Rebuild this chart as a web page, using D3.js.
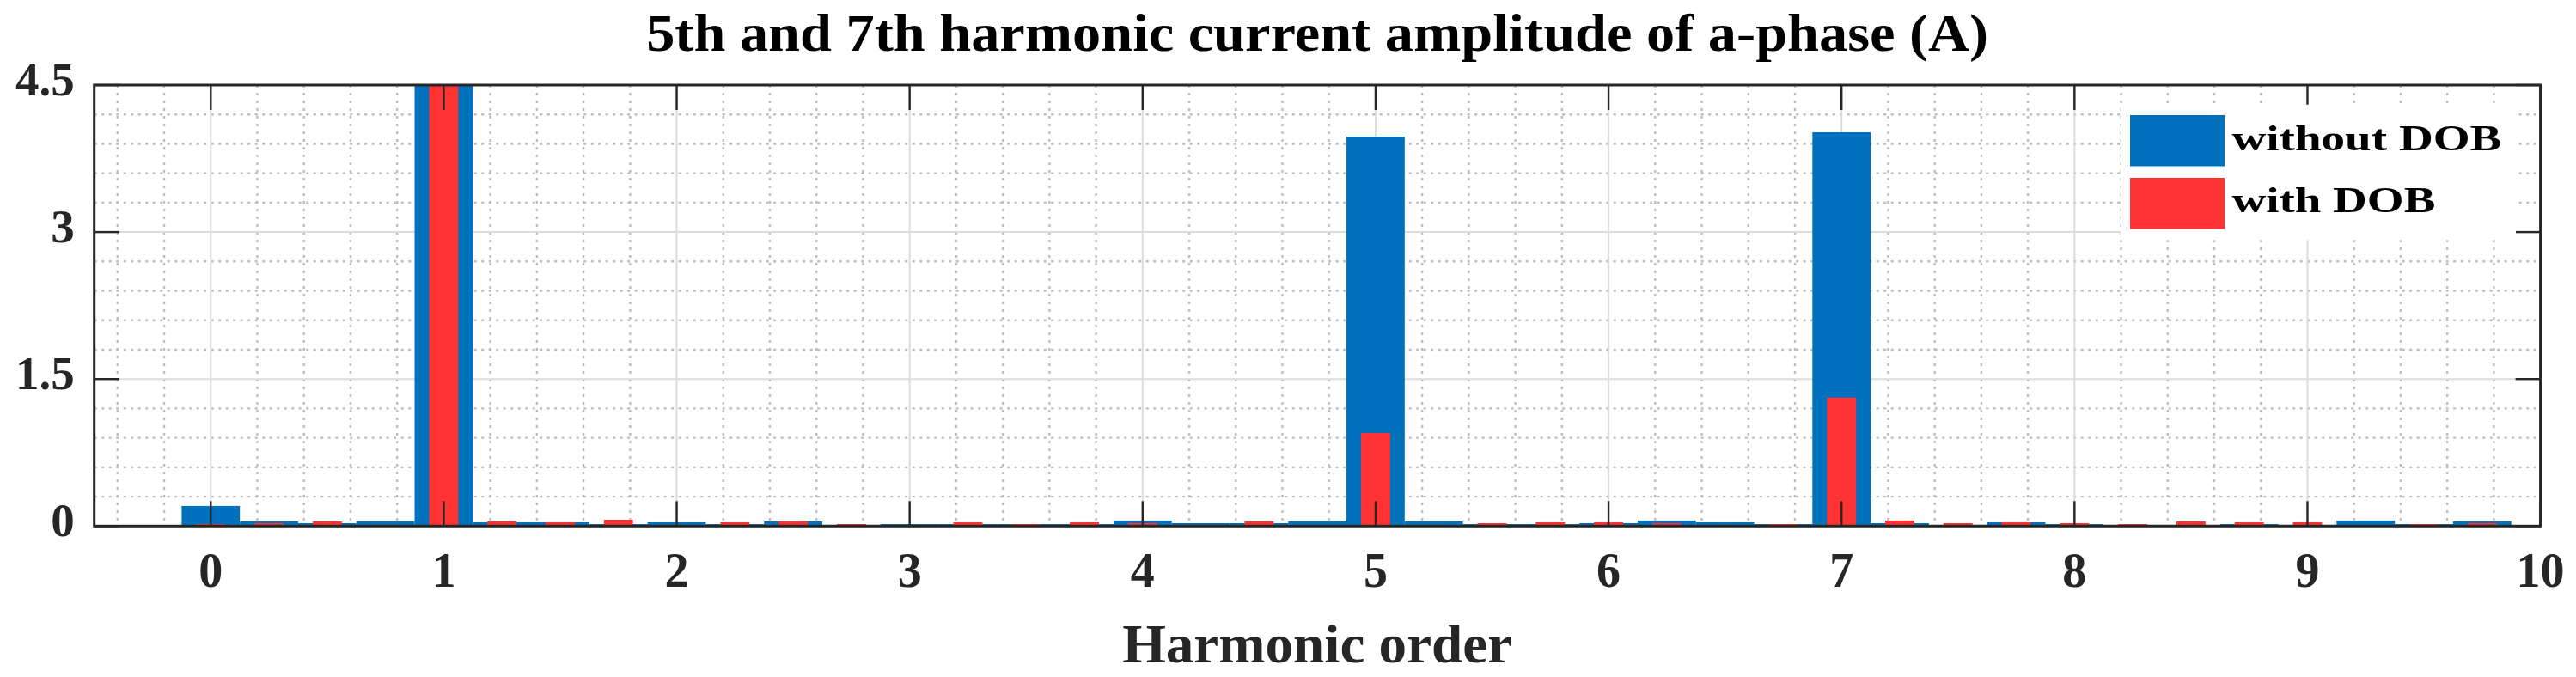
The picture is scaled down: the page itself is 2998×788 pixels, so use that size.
<!DOCTYPE html>
<html>
<head>
<meta charset="utf-8">
<script src="https://cdn.jsdelivr.net/npm/d3@7"></script>
<style>
  html, body { margin: 0; padding: 0; background: #fff; }
  svg { display: block; }
  text { font-family: "Liberation Serif", "Times New Roman", serif; font-weight: bold; }
</style>
</head>
<body>
<svg id="chart" width="2998" height="788"></svg>
<script>
// ---- data ----
const harmonicOrder = [0, 0.25, 0.5, 0.75, 1, 1.25, 1.5, 1.75, 2, 2.25, 2.5, 2.75, 3, 3.25, 3.5, 3.75,
  4, 4.25, 4.5, 4.75, 5, 5.25, 5.5, 5.75, 6, 6.25, 6.5, 6.75, 7, 7.25, 7.5, 7.75,
  8, 8.25, 8.5, 8.75, 9, 9.25, 9.5, 9.75];
const withoutDOB = [0.205, 0.047, 0.029, 0.047, 5.4, 0.038, 0.038, 0.020, 0.038, 0.020, 0.047, 0.012,
  0.020, 0.020, 0.020, 0.020, 0.056, 0.029, 0.029, 0.047, 3.974, 0.047, 0.020, 0.020,
  0.029, 0.056, 0.038, 0.020, 4.018, 0.029, 0.012, 0.038, 0.020, 0.012, 0.012, 0.020,
  0.012, 0.056, 0.020, 0.047];
const withDOB = [0.020, 0.029, 0.047, 0.012, 5.2, 0.047, 0.038, 0.064, 0.012, 0.038, 0.047, 0.020,
  0.012, 0.038, 0.020, 0.038, 0.029, 0.012, 0.047, 0.004, 0.950, 0.012, 0.029, 0.038,
  0.038, 0.029, 0.012, 0.020, 1.311, 0.056, 0.029, 0.038, 0.029, 0.020, 0.047, 0.038,
  0.038, 0.004, 0.020, 0.029];
const xTicks = [0, 1, 2, 3, 4, 5, 6, 7, 8, 9, 10];
const yTicks = [0, 1.5, 3, 4.5];
const xMinorTicks = [-0.4, -0.2, 0.2, 0.4, 0.6, 0.8, 1.2, 1.4, 1.6, 1.8, 2.2, 2.4, 2.6, 2.8,
  3.2, 3.4, 3.6, 3.8, 4.2, 4.4, 4.6, 4.8, 5.2, 5.4, 5.6, 5.8, 6.2, 6.4, 6.6, 6.8,
  7.2, 7.4, 7.6, 7.8, 8.2, 8.4, 8.6, 8.8, 9.2, 9.4, 9.6, 9.8];
const yMinorTicks = [0.3, 0.6, 0.9, 1.2, 1.8, 2.1, 2.4, 2.7, 3.3, 3.6, 3.9, 4.2];
const seriesNames = ["without DOB", "with DOB"];
const titleText = "5th and 7th harmonic current amplitude of a-phase (A)";
const xLabelText = "Harmonic order";

// ---- layout ----
const L = 109.7, R = 2956.6, T = 99, B = 612.3;
const blueC = "#0072BD", redC = "#FF3333", axisC = "#262626";

const svg = d3.select("#chart");
const x = d3.scaleLinear().domain([-0.5, 10]).range([L, R]);
const y = d3.scaleLinear().domain([0, 4.5]).range([B, T]);
const step = 0.25;

svg.append("defs").append("clipPath").attr("id", "plotclip")
  .append("rect").attr("x", L).attr("y", T).attr("width", R - L).attr("height", B - T);

const grid = svg.append("g");
// minor grid
grid.selectAll(".vminor").data(xMinorTicks).join("line")
  .attr("x1", d => x(d)).attr("x2", d => x(d)).attr("y1", T).attr("y2", B)
  .attr("stroke", "#bdbdbd").attr("stroke-width", 2.4).attr("stroke-dasharray", "3,6");
grid.selectAll(".hminor").data(yMinorTicks).join("line")
  .attr("y1", d => y(d)).attr("y2", d => y(d)).attr("x1", L).attr("x2", R)
  .attr("stroke", "#bdbdbd").attr("stroke-width", 2.4).attr("stroke-dasharray", "3,5.5");
// major grid
grid.selectAll(".vmajor").data(xTicks.slice(0, -1)).join("line")
  .attr("x1", d => x(d)).attr("x2", d => x(d)).attr("y1", T).attr("y2", B)
  .attr("stroke", "#dcdcdc").attr("stroke-width", 2);
grid.selectAll(".hmajor").data(yTicks.slice(1, -1)).join("line")
  .attr("y1", d => y(d)).attr("y2", d => y(d)).attr("x1", L).attr("x2", R)
  .attr("stroke", "#dcdcdc").attr("stroke-width", 2);

// bars
const bars = svg.append("g").attr("clip-path", "url(#plotclip)");
bars.selectAll(".b").data(harmonicOrder.map((h, i) => ({h, v: withoutDOB[i]}))).join("rect")
  .attr("x", d => x(d.h - step / 2)).attr("width", d => x(d.h + step / 2) - x(d.h - step / 2))
  .attr("y", d => y(d.v)).attr("height", d => y(0) - y(d.v)).attr("fill", blueC);
bars.selectAll(".r").data(harmonicOrder.map((h, i) => ({h, v: withDOB[i]}))).join("rect")
  .attr("x", d => x(d.h - step / 4)).attr("width", d => x(d.h + step / 4) - x(d.h - step / 4))
  .attr("y", d => y(d.v)).attr("height", d => y(0) - y(d.v)).attr("fill", redC);

// ticks
const tickLen = 29;
const ax = svg.append("g").attr("stroke", axisC).attr("stroke-width", 2.4);
xTicks.forEach(t => {
  ax.append("line").attr("x1", x(t)).attr("x2", x(t)).attr("y1", B).attr("y2", B - tickLen);
  ax.append("line").attr("x1", x(t)).attr("x2", x(t)).attr("y1", T).attr("y2", T + tickLen);
});
yTicks.forEach(t => {
  ax.append("line").attr("x1", L).attr("x2", L + tickLen).attr("y1", y(t)).attr("y2", y(t));
  ax.append("line").attr("x1", R).attr("x2", R - tickLen).attr("y1", y(t)).attr("y2", y(t));
});
// legend (drawn over grid, bars)
const lg = svg.append("g");
lg.append("rect").attr("x", 2468).attr("y", 121.7).attr("width", 460).attr("height", 157.6).attr("fill", "#fff");
const legendColors = [blueC, redC];
const legendRows = [{py: 134, ty: 175}, {py: 207, ty: 246.7}];
seriesNames.forEach((n, i) => {
  lg.append("rect").attr("x", 2479).attr("y", legendRows[i].py).attr("width", 110).attr("height", 59.5)
    .attr("fill", legendColors[i]);
  lg.append("text").attr("x", 2597.4).attr("y", legendRows[i].ty).attr("font-size", 43)
    .attr("fill", "#000").text(n).attr("data-w", i === 0 ? 314 : 237);
});

// axes box
svg.append("rect").attr("x", L).attr("y", T).attr("width", R - L).attr("height", B - T)
  .attr("fill", "none").attr("stroke", axisC).attr("stroke-width", 3);

// tick labels
const tl = svg.append("g").attr("fill", axisC);
xTicks.forEach(t => {
  tl.append("text").attr("x", x(t)).attr("y", 683).attr("text-anchor", "middle")
    .attr("font-size", 56).text(d3.format("d")(t));
});
yTicks.forEach(t => {
  tl.append("text").attr("x", 86.7).attr("y", y(t) + 12).attr("text-anchor", "end")
    .attr("font-size", 55).text(t);
});

// title & x label
svg.append("text").attr("x", (L + R) / 2).attr("y", 59).attr("text-anchor", "middle")
  .attr("font-size", 62).attr("fill", "#000").attr("data-w", 1562).text(titleText);
svg.append("text").attr("x", (L + R) / 2).attr("y", 771).attr("text-anchor", "middle")
  .attr("font-size", 63).attr("fill", axisC).attr("data-w", 454).text(xLabelText);

// width fitting to mimic the original serif face
svg.selectAll("text[data-w]").each(function() {
  const el = d3.select(this);
  const w = +el.attr("data-w");
  el.attr("textLength", w).attr("lengthAdjust", "spacingAndGlyphs");
});
</script>
</body>
</html>
